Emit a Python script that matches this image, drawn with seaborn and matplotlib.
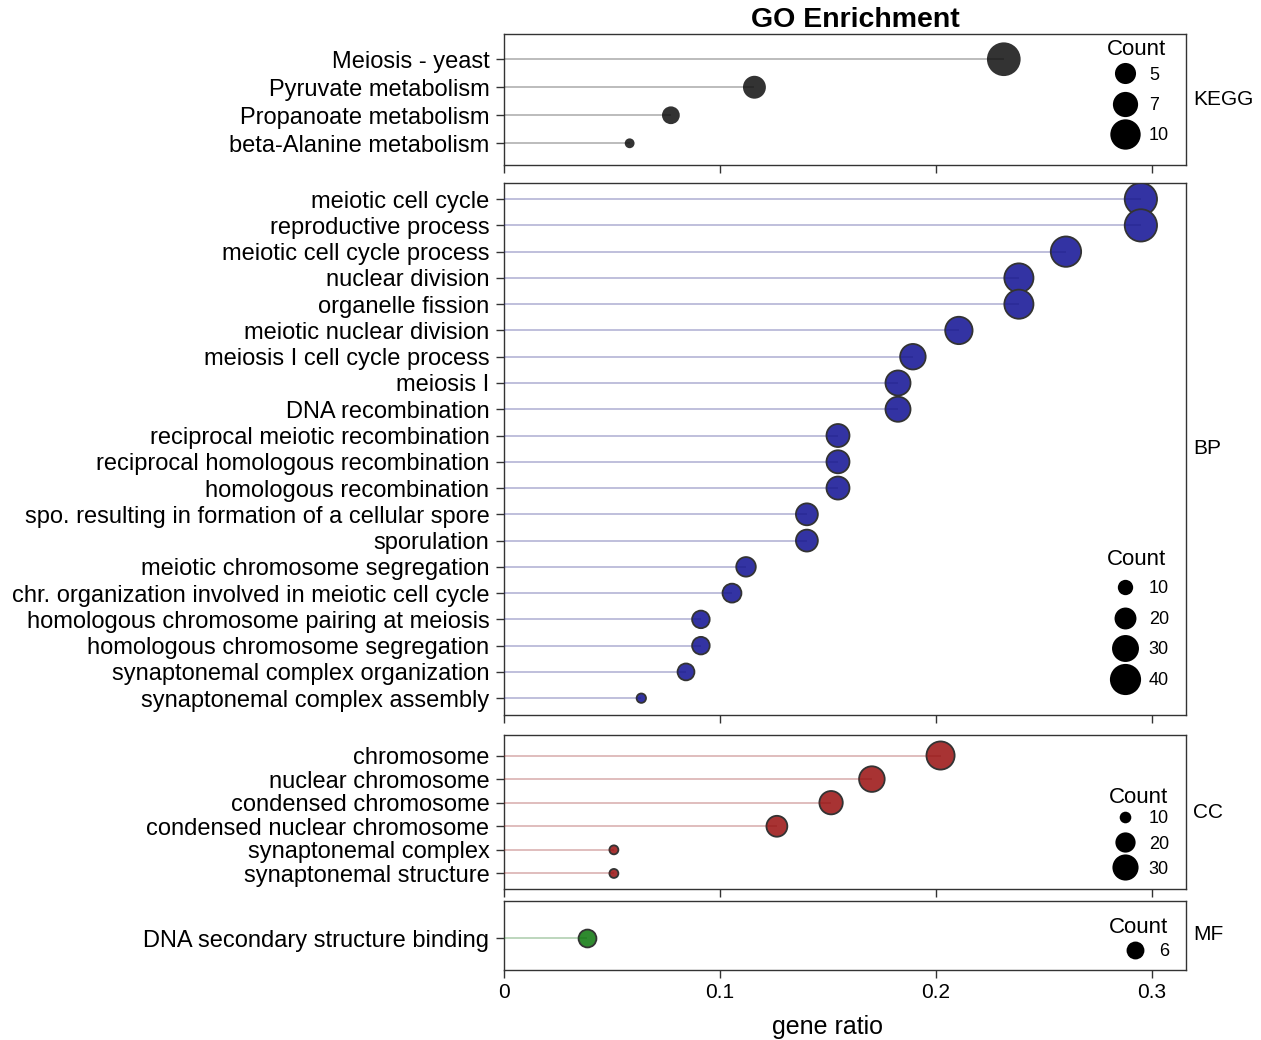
import numpy as np
import pandas as pd
import matplotlib
matplotlib.use("Agg")
import matplotlib.pyplot as plt
import seaborn as sns
from matplotlib.lines import Line2D

# ---------------- data ----------------
kegg_terms = ["Meiosis - yeast", "Pyruvate metabolism", "Propanoate metabolism",
              "beta-Alanine metabolism"]
kegg_ratio = [0.2315, 0.116, 0.0773, 0.0582]
kegg_count = [11, 5, 3, 1]
kegg_breaks = [5, 7, 10]

bp_terms = ["meiotic cell cycle", "reproductive process", "meiotic cell cycle process",
            "nuclear division", "organelle fission", "meiotic nuclear division",
            "meiosis I cell cycle process", "meiosis I", "DNA recombination",
            "reciprocal meiotic recombination", "reciprocal homologous recombination",
            "homologous recombination", "spo. resulting in formation of a cellular spore",
            "sporulation", "meiotic chromosome segregation",
            "chr. organization involved in meiotic cell cycle",
            "homologous chromosome pairing at meiosis",
            "homologous chromosome segregation", "synaptonemal complex organization",
            "synaptonemal complex assembly"]
bp_ratio = [0.295, 0.295, 0.2603, 0.2385, 0.2385, 0.2107, 0.1894, 0.1825, 0.1825,
            0.1547, 0.1547, 0.1547, 0.1403, 0.1403, 0.1121, 0.1056, 0.0912, 0.0912,
            0.0843, 0.0636]
bp_count = [43, 43, 38, 35, 35, 31, 27, 26, 26, 22, 22, 22, 20, 20, 16, 15, 13, 13, 12, 4]
bp_breaks = [10, 20, 30, 40]

cc_terms = ["chromosome", "nuclear chromosome", "condensed chromosome",
            "condensed nuclear chromosome", "synaptonemal complex", "synaptonemal structure"]
cc_ratio = [0.2022, 0.1704, 0.1515, 0.1264, 0.0509, 0.0509]
cc_count = [34, 29, 25, 21, 8, 8]
cc_breaks = [10, 20, 30]

mf_terms = ["DNA secondary structure binding"]
mf_ratio = [0.0383]
mf_count = [6]
mf_breaks = [6]

# ---------------- style ----------------
sns.set_theme(style="white")
plt.rcParams["font.family"] = ["Liberation Sans", "DejaVu Sans"]
plt.rcParams["text.color"] = "black"
plt.rcParams["axes.labelcolor"] = "black"
plt.rcParams["xtick.color"] = "black"
plt.rcParams["ytick.color"] = "black"

W, H, DPI = 1261, 1040, 100
fig = plt.figure(figsize=(W / DPI, H / DPI), dpi=DPI)

def frac_rect(top, bottom, left=504, right=1186):
    return [left / W, (H - bottom) / H, (right - left) / W, (bottom - top) / H]

XMAX = 0.3159
EDGE = "#333333"

def panel(rect, terms, ratio, count, breaks, fill, line_c, A, B, ylim, strip,
          leg_loc, leg_anchor, leg_space, title_xy, show_x=False):
    ax = fig.add_axes(rect)
    df = pd.DataFrame({"term": terms, "ratio": ratio, "count": count})
    df["y"] = np.arange(len(df))
    s = lambda c: 2.0736 * (A * c + B)
    lo = min(breaks + count)
    hi = max(breaks + count)
    sns.scatterplot(data=df, x="ratio", y="y", size="count",
                    sizes=(s(lo), s(hi)), size_norm=(lo, hi) if hi > lo else None,
                    color=fill, edgecolor=EDGE, linewidth=1.3, alpha=1,
                    legend=False, ax=ax, zorder=2)
    ax.hlines(df["y"], 0, df["ratio"], color=line_c, alpha=0.3, lw=1.3, zorder=3)
    ax.set_xlim(0, XMAX)
    ax.set_ylim(*ylim)
    ax.set_yticks(df["y"])
    ax.set_yticklabels(terms, fontsize=17, color="black")
    ax.set_xticks([0, 0.1, 0.2, 0.3])
    if show_x:
        ax.set_xticklabels(["0", "0.1", "0.2", "0.3"], fontsize=15)
        ax.set_xlabel("gene ratio", fontsize=18)
        ax.xaxis.label.set_va("top")
        ax.xaxis.set_label_coords(0.475, -0.66)
    else:
        ax.set_xticklabels([])
        ax.set_xlabel("")
    ax.set_ylabel("")
    ax.tick_params(axis="y", length=5.5, width=1, color=EDGE, pad=5, left=True)
    ax.tick_params(axis="x", length=5.5, width=1, color=EDGE, pad=4, bottom=True)
    for sp in ax.spines.values():
        sp.set_color(EDGE)
        sp.set_linewidth(1.0)
    ax.text(1.01, 0.5, strip, transform=ax.transAxes, ha="left", va="center",
            fontsize=15, color="black")
    handles = [Line2D([], [], ls="", marker="o", color="black",
                      markersize=np.sqrt(s(b)), markeredgewidth=0) for b in breaks]
    ax.legend(handles, [str(b) for b in breaks], loc=leg_loc,
              bbox_to_anchor=leg_anchor, frameon=False, fontsize=13,
              handletextpad=0.6, labelspacing=leg_space,
              borderpad=0, handlelength=1.4, borderaxespad=0)
    ax.text(title_xy[0], title_xy[1], "Count", transform=ax.transAxes,
            ha="center", va="center", fontsize=16, color="black")
    return ax

panel(frac_rect(34, 165), kegg_terms, kegg_ratio, kegg_count, kegg_breaks,
      "#333333", "#111111", 23.8, -7.8, (3.775, -0.9), "KEGG",
      "upper right", (0.975, 0.75), 0.74, (0.928, 0.885))
panel(frac_rect(182.7, 715), bp_terms, bp_ratio, bp_count, bp_breaks,
      "#3333a3", "#1a1a80", 6.13, -2.5, (19.64, -0.625), "BP",
      "lower right", (0.975, 0.049), 0.75, (0.928, 0.293))
panel(frac_rect(735, 889), cc_terms, cc_ratio, cc_count, cc_breaks,
      "#a83333", "#901515", 6.85, -34.7, (5.66, -0.87), "CC",
      "upper right", (0.975, 0.51), 0.45, (0.931, 0.597))
panel(frac_rect(900.5, 969.5), mf_terms, mf_ratio, mf_count, mf_breaks,
      "#2f8a2f", "#157015", 13.3, 0.0, (1.32, -1.6), "MF",
      "upper right", (0.975, 0.377), 0.4, (0.931, 0.615), show_x=True)

fig.text(855 / W, 1 - 20 / H, "GO Enrichment", ha="center", va="center",
         fontsize=20.5, fontweight="bold")

fig.savefig("out.png", dpi=DPI)
